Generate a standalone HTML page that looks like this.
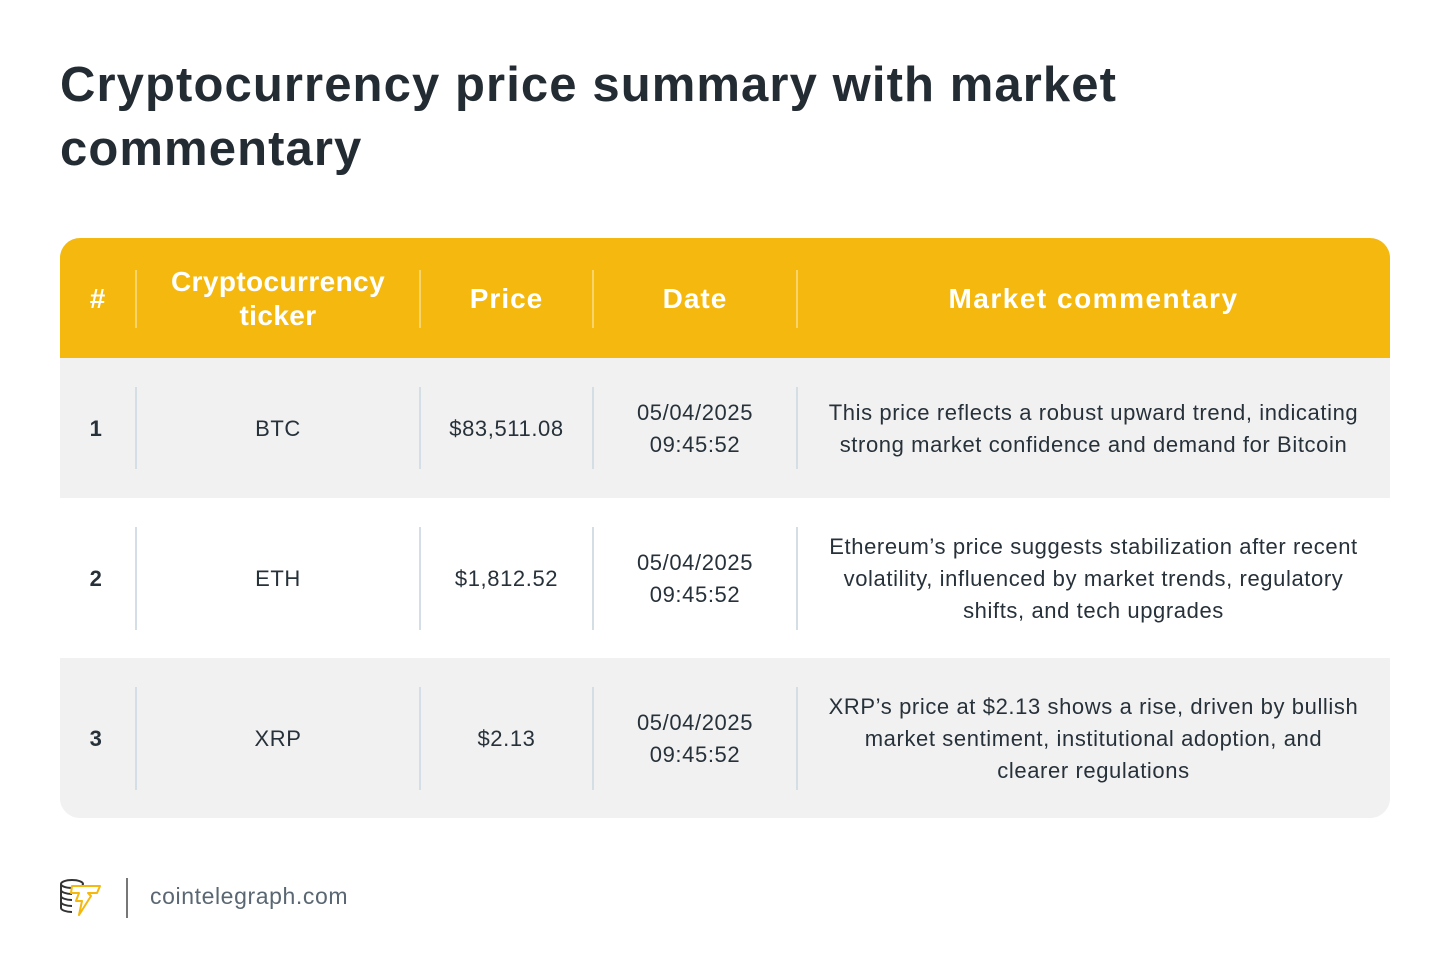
<!DOCTYPE html>
<html><head><meta charset="utf-8"><style>
body{margin:0;width:1450px;height:978px;background:#fff;position:relative;font-family:"Liberation Sans",sans-serif;color:#27313a;overflow:hidden}
.t{position:absolute;left:60px;top:53px;font-size:49px;font-weight:bold;line-height:64px;color:#232b33;letter-spacing:1.1px}
.tbl{position:absolute;left:60px;top:238px;width:1330px;height:580px;border-radius:20px;overflow:hidden;background:#f1f1f1}
.r{position:absolute;left:0;width:1330px}
.c{position:absolute;top:1px;height:100%;display:flex;align-items:center;justify-content:center;text-align:center;font-size:22px;line-height:32px;letter-spacing:0.6px}
.d{position:absolute;width:2px}
.h .c{color:#fff;font-weight:bold;font-size:28px;line-height:34px;letter-spacing:1px}
</style></head><body>
<div class="t">Cryptocurrency price summary with market<br>commentary</div>
<div class="tbl">
 <div class="r h" style="top:0;height:120px;background:#f4b80e">
  <div class="c" style="left:0;width:76px">#</div>
  <div class="c" style="left:76px;width:284px;letter-spacing:0.4px">Cryptocurrency<br>ticker</div>
  <div class="c" style="left:360px;width:173px">Price</div>
  <div class="c" style="left:533px;width:204px">Date</div>
  <div class="c" style="left:737px;width:593px;letter-spacing:1.5px">Market commentary</div>
  <div class="d" style="left:75px;top:32px;height:58px;background:#f9d46a"></div>
  <div class="d" style="left:359px;top:32px;height:58px;background:#f9d46a"></div>
  <div class="d" style="left:532px;top:32px;height:58px;background:#f9d46a"></div>
  <div class="d" style="left:736px;top:32px;height:58px;background:#f9d46a"></div>
 </div>
 <div class="r" style="top:120px;height:140px;background:#f1f1f1">
  <div class="c" style="left:0;width:72px;font-weight:bold">1</div>
  <div class="c" style="left:76px;width:284px">BTC</div>
  <div class="c" style="left:360px;width:173px">$83,511.08</div>
  <div class="c" style="left:533px;width:204px">05/04/2025<br>09:45:52</div>
  <div class="c" style="left:737px;width:593px">This price reflects a robust upward trend, indicating<br>strong market confidence and demand for Bitcoin</div>
  <div class="d" style="left:75px;top:29px;height:82px;background:#d3dee5"></div>
  <div class="d" style="left:359px;top:29px;height:82px;background:#d3dee5"></div>
  <div class="d" style="left:532px;top:29px;height:82px;background:#d3dee5"></div>
  <div class="d" style="left:736px;top:29px;height:82px;background:#d3dee5"></div>
 </div>
 <div class="r" style="top:260px;height:160px;background:#fff">
  <div class="c" style="left:0;width:72px;font-weight:bold">2</div>
  <div class="c" style="left:76px;width:284px">ETH</div>
  <div class="c" style="left:360px;width:173px">$1,812.52</div>
  <div class="c" style="left:533px;width:204px">05/04/2025<br>09:45:52</div>
  <div class="c" style="left:737px;width:593px">Ethereum’s price suggests stabilization after recent<br>volatility, influenced by market trends, regulatory<br>shifts, and tech upgrades</div>
  <div class="d" style="left:75px;top:29px;height:103px;background:#d3dee5"></div>
  <div class="d" style="left:359px;top:29px;height:103px;background:#d3dee5"></div>
  <div class="d" style="left:532px;top:29px;height:103px;background:#d3dee5"></div>
  <div class="d" style="left:736px;top:29px;height:103px;background:#d3dee5"></div>
 </div>
 <div class="r" style="top:420px;height:160px;background:#f1f1f1">
  <div class="c" style="left:0;width:72px;font-weight:bold">3</div>
  <div class="c" style="left:76px;width:284px">XRP</div>
  <div class="c" style="left:360px;width:173px">$2.13</div>
  <div class="c" style="left:533px;width:204px">05/04/2025<br>09:45:52</div>
  <div class="c" style="left:737px;width:593px">XRP’s price at $2.13 shows a rise, driven by bullish<br>market sentiment, institutional adoption, and<br>clearer regulations</div>
  <div class="d" style="left:75px;top:29px;height:103px;background:#d3dee5"></div>
  <div class="d" style="left:359px;top:29px;height:103px;background:#d3dee5"></div>
  <div class="d" style="left:532px;top:29px;height:103px;background:#d3dee5"></div>
  <div class="d" style="left:736px;top:29px;height:103px;background:#d3dee5"></div>
 </div>
</div>
<svg style="position:absolute;left:58px;top:876px" width="46" height="44" viewBox="0 0 46 44">
 <g fill="none" stroke="#333" stroke-width="2">
  <ellipse cx="14" cy="8" rx="11" ry="4"/>
  <path d="M3 8v24c0 2 5 4 11 4M3 14c0 2 5 4 11 4M3 20c0 2 5 4 11 4M3 26c0 2 5 4 11 4"/>
 </g>
 <path d="M14 10h28l-3 7h-9l3 3-12 19 3-14h-6l3-8h-8z" fill="#fff" stroke="#f4b80e" stroke-width="2" stroke-linejoin="round"/>
</svg>
<div style="position:absolute;left:126px;top:878px;width:2px;height:40px;background:#777"></div>
<div style="position:absolute;left:150px;top:883px;font-size:23px;color:#5a6772;letter-spacing:0.6px">cointelegraph.com</div>
</body></html>
